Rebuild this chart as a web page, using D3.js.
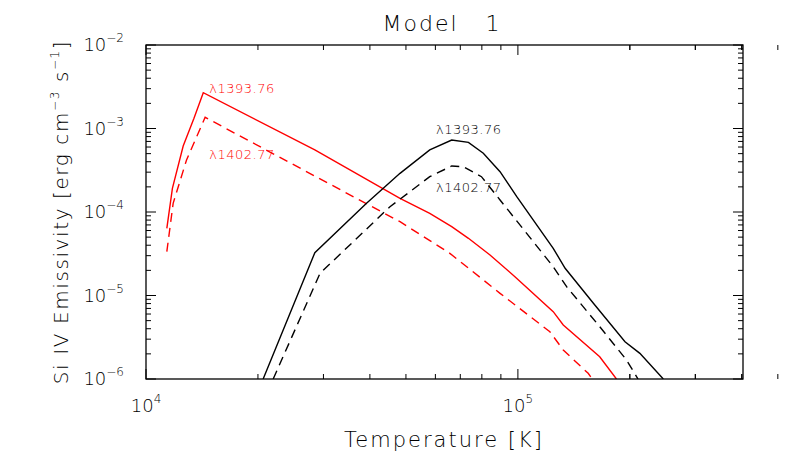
<!DOCTYPE html>
<html><head><meta charset="utf-8">
<script src="https://cdn.jsdelivr.net/npm/d3@7"></script>
<style>body{margin:0;background:#fff}text{font-family:"DejaVu Sans",sans-serif;font-weight:300}</style>
</head><body><svg id="c" width="786" height="472"></svg>
<script>
// log10(T), log10(emissivity)
const redSolidT = [4.056,4.071,4.100,4.129,4.154,4.454,4.683,4.763,4.822,4.867,4.925,4.992,5.095,5.122,5.220,5.265];
const redSolidE = [-4.195,-3.716,-3.21,-2.878,-2.571,-3.257,-3.836,-4.016,-4.176,-4.315,-4.515,-4.775,-5.194,-5.353,-5.733,-6.0];
const redDashT = [4.056,4.073,4.109,4.159,4.683,4.817,4.952,5.086,5.122,5.189,5.20];
const redDashE = [-4.475,-3.896,-3.377,-2.866,-4.116,-4.495,-4.974,-5.434,-5.653,-5.932,-6.0];
const blkSolidT = [4.315,4.454,4.593,4.683,4.763,4.822,4.867,4.907,4.952,4.997,5.095,5.127,5.203,5.288,5.328,5.391];
const blkSolidE = [-6.0,-4.487,-3.896,-3.537,-3.257,-3.138,-3.166,-3.297,-3.517,-3.817,-4.435,-4.674,-5.093,-5.553,-5.693,-6.0];
const blkDashT = [4.342,4.468,4.656,4.763,4.822,4.853,4.902,4.952,5.095,5.131,5.220,5.292,5.323];
const blkDashE = [-6.0,-4.734,-3.937,-3.577,-3.449,-3.457,-3.577,-3.856,-4.655,-4.894,-5.373,-5.772,-6.0];
const xTickExp = [4,5];
const yTickExp = [-6,-5,-4,-3,-2];
const labels = [
  {t:"λ1393.76", T:4.17, E:-2.57, c:"red"},
  {t:"λ1402.77", T:4.17, E:-3.37, c:"red"},
  {t:"λ1393.76", T:4.78, E:-3.06, c:"black"},
  {t:"λ1402.77", T:4.78, E:-3.76, c:"black"}
];

const svg = d3.select("#c");
const L=146,R=743,T=45,B=379;
const x = d3.scaleLog().domain([1e4,4.03e5]).range([L,R]);
const y = d3.scaleLog().domain([1e-6,1e-2]).range([B,T]);
svg.append("clipPath").attr("id","cl").append("rect").attr("x",L).attr("y",T).attr("width",R-L).attr("height",B-T);

function series(ts,es,color,dash){
  const pts = ts.map((t,i)=>[Math.pow(10,t),Math.pow(10,es[i])]);
  svg.append("path").attr("clip-path","url(#cl)").attr("d",d3.line().x(d=>x(d[0])).y(d=>y(d[1]))(pts))
    .attr("fill","none").attr("stroke",color).attr("stroke-width",1.4).attr("stroke-dasharray",dash?"9,6":null);
}
series(redSolidT,redSolidE,"#ff0000",false);
series(redDashT,redDashE,"#ff0000",true);
series(blkSolidT,blkSolidE,"#000",false);
series(blkDashT,blkDashE,"#000",true);

labels.forEach(l=>svg.append("text").attr("x",x(Math.pow(10,l.T))).attr("y",y(Math.pow(10,l.E))).attr("fill",l.c).attr("font-size",13).attr("letter-spacing",0.5).text(l.t));

svg.append("rect").attr("x",L).attr("y",T).attr("width",R-L).attr("height",B-T).attr("fill","none").attr("stroke","#000").attr("stroke-width",1.3);
const g=svg.append("g").attr("stroke","#000").attr("stroke-width",1);
const xt=[];for(let e=4;e<=5;e++)for(let m=1;m<=9;m++){const v=m*Math.pow(10,e);xt.push([v,m===1]);}
xt.push([2e6/10,false],[3e5,false],[4e5,false]);
xt.forEach(([v,maj])=>{const px=x(v),len=maj?10:5;
  g.append("line").attr("x1",px).attr("x2",px).attr("y1",B).attr("y2",B-len);
  g.append("line").attr("x1",px).attr("x2",px).attr("y1",T).attr("y2",T+len);});
for(let e=-6;e<=-2;e++)for(let m=1;m<=9;m++){const v=m*Math.pow(10,e);if(v>1e-2)continue;const py=y(v),len=m===1?10:5;
  g.append("line").attr("x1",L).attr("x2",L+len).attr("y1",py).attr("y2",py);
  g.append("line").attr("x1",R).attr("x2",R-len).attr("y1",py).attr("y2",py);}
xTickExp.forEach(e=>{const t=svg.append("text").attr("x",x(Math.pow(10,e))).attr("y",412).attr("text-anchor","middle").attr("font-size",18);
  t.append("tspan").text("10");t.append("tspan").attr("dy",-9).attr("font-size",12).text(e);});
yTickExp.forEach(e=>{const t=svg.append("text").attr("x",124).attr("y",y(Math.pow(10,e))+6).attr("text-anchor","end").attr("font-size",18);
  t.append("tspan").text("10");t.append("tspan").attr("dy",-9).attr("font-size",12).text("−"+(-e));});
svg.append("text").attr("x",442).attr("y",31).attr("text-anchor","middle").attr("font-size",22).attr("letter-spacing",2).attr("xml:space","preserve").text("Model   1");
svg.append("text").attr("x",444).attr("y",447).attr("text-anchor","middle").attr("font-size",21).attr("letter-spacing",2).text("Temperature [K]");
const yl=svg.append("text").attr("transform","translate(68,212) rotate(-90)").attr("text-anchor","middle").attr("font-size",20).attr("letter-spacing",1.6);
yl.append("tspan").text("Si IV Emissivity [erg cm");yl.append("tspan").attr("dy",-9).attr("font-size",12).text("−3");
yl.append("tspan").attr("dy",9).text(" s");yl.append("tspan").attr("dy",-9).attr("font-size",12).text("−1");
yl.append("tspan").attr("dy",9).text("]");
</script></body></html>
